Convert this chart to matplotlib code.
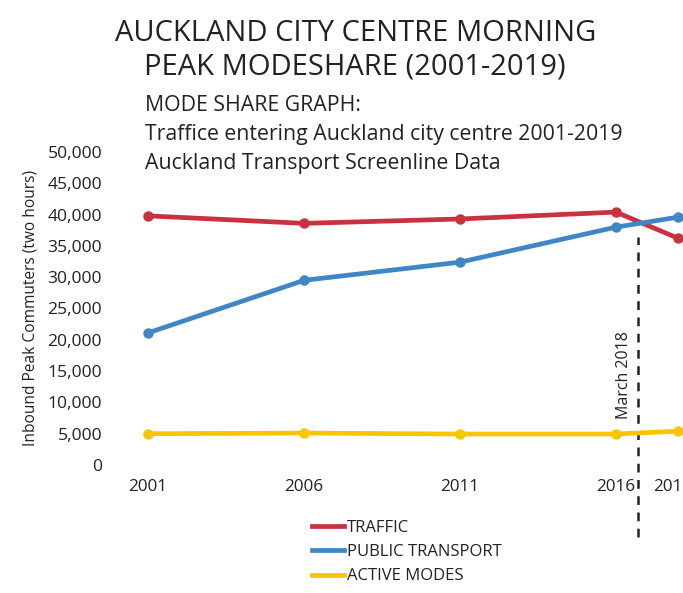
import matplotlib
matplotlib.use("Agg")
import matplotlib.pyplot as plt
import matplotlib.transforms as mtransforms

plt.rcParams['font.family'] = ['Open Sans', 'DejaVu Sans']

years = [2001, 2006, 2011, 2016, 2018]
year_labels = ['2001', '2006', '2011', '2016', '2019']
traffic = [39800, 38600, 39300, 40400, 36200]
public_transport = [21100, 29500, 32400, 38000, 39600]
active_modes = [5000, 5100, 4950, 4950, 5400]
yticks = [0, 5000, 10000, 15000, 20000, 25000, 30000, 35000, 40000, 45000, 50000]
march_2018_x = 2016.7

series_names = ['TRAFFIC', 'PUBLIC TRANSPORT', 'ACTIVE MODES']
colors = ['#C8313F', '#3F86C6', '#F7C600']

fig = plt.figure(figsize=(6.83, 5.93), dpi=100)
ax = fig.add_axes([120/683, (593-465)/593, (683-120)/683, (465-152)/593])

for vals, name, c in zip([traffic, public_transport, active_modes], series_names, colors):
    ax.plot(years, vals, color=c, lw=3.4, marker='o', ms=6.5, label=name, clip_on=False, zorder=3)

ax.set_xlim(2001 - 28/31.2, 2001 + 535/31.2)
ax.set_ylim(0, 50000)
ax.set_yticks(yticks)
ax.set_yticklabels([f'{v:,}' for v in yticks], fontsize=12.6, color='#222222')
ax.set_xticks(years)
ax.set_xticklabels(year_labels, fontsize=12.3, color='#222222')
ax.tick_params(axis='y', length=0, pad=13)
ax.tick_params(axis='x', length=0, pad=10)
for s in ax.spines.values():
    s.set_visible(False)
last = ax.get_xticklabels()[-1]
last.set_transform(last.get_transform() + mtransforms.ScaledTranslation(-6/100, 0, fig.dpi_scale_trans))
ax.set_ylabel('Inbound Peak Commuters (two hours)', fontsize=11.2, color='#222222', labelpad=6)

ax.axvline(march_2018_x, ymin=-0.23, ymax=0.73, color='#222222', lw=1.8, ls=(0, (3.5, 3)), clip_on=False, zorder=2)
ax.text(march_2018_x - 0.45, 14400, 'March 2018', rotation=90, ha='center', va='center', fontsize=11.5, color='#222222')

fig.text(0.52, 0.968, 'AUCKLAND CITY CENTRE MORNING\nPEAK MODESHARE (2001-2019)', ha='center', va='top',
         fontsize=21, color='#222222', linespacing=1.2)
fig.text(145/683, 1 - 95/593, 'MODE SHARE GRAPH:\nTraffice entering Auckland city centre 2001-2019\nAuckland Transport Screenline Data',
         ha='left', va='top', fontsize=15.3, color='#222222', linespacing=1.5)

leg = fig.legend(handles=[plt.Line2D([], [], color=c, lw=3.4) for c in colors], labels=series_names,
                 loc='upper left', bbox_to_anchor=(305/683, 1 - 513/593), frameon=False,
                 fontsize=12, handlelength=1.95, handletextpad=0.15, labelspacing=0.5, borderaxespad=0)
for t in leg.get_texts():
    t.set_color('#222222')

fig.savefig('out.png', dpi=100)
